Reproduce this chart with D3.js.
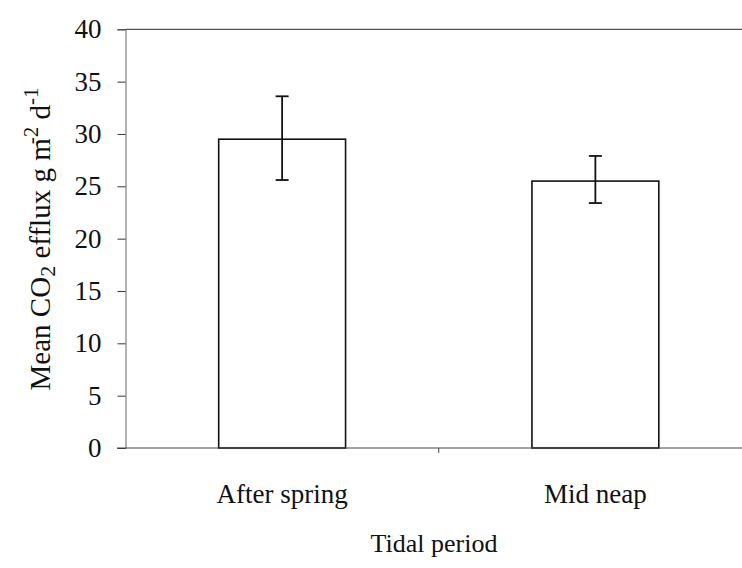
<!DOCTYPE html>
<html><head><meta charset="utf-8">
<script src="https://cdn.jsdelivr.net/npm/d3@7/dist/d3.min.js"></script>
<style>
html,body{margin:0;padding:0;background:#fff;}
svg{display:block;}
text{font-family:"Liberation Serif","Times New Roman",serif;fill:#111;}
</style></head>
<body>
<script>
const categories = ["After spring", "Mid neap"];
const means = [29.5, 25.5];
const errUpper = [33.6, 27.9];
const errLower = [25.6, 23.4];
const yTicks = [0, 5, 10, 15, 20, 25, 30, 35, 40];
const xTitle = "Tidal period";

const W = 742, H = 568;
const svg = d3.select("body").append("svg").attr("width", W).attr("height", H);

const x = d3.scaleBand().domain(categories).range([125.5, 752]).padding(0);
const y = d3.scaleLinear().domain([0, 40]).range([448, 29.3]);
const barFrac = 0.405;

// top line at 40
svg.append("line").attr("x1", 125.5).attr("x2", W).attr("y1", y(40)).attr("y2", y(40))
  .attr("stroke", "#555").attr("stroke-width", 1.2);

// y axis
const yAxis = d3.axisLeft(y).tickValues(yTicks).tickSize(8).tickPadding(16).tickFormat(d3.format("d"));
const gy = svg.append("g").attr("transform", "translate(125.5,0)").call(yAxis);
gy.select(".domain").attr("stroke", "#666").attr("stroke-width", 1);
gy.selectAll(".tick line").attr("stroke", "#333").attr("stroke-width", 1);
gy.selectAll(".tick text").style("font-size", "27px").attr("fill", "#111")
  .style("font-family", "'Liberation Serif', serif");

// bars
svg.selectAll("rect.bar").data(categories).enter().append("rect")
  .attr("class", "bar")
  .attr("x", d => x(d) + x.bandwidth() * (1 - barFrac) / 2)
  .attr("width", x.bandwidth() * barFrac)
  .attr("y", (d, i) => y(means[i]))
  .attr("height", (d, i) => y(0) - y(means[i]))
  .attr("fill", "#fff").attr("stroke", "#111").attr("stroke-width", 1.6);

// x axis line
svg.append("line").attr("x1", 117).attr("x2", W).attr("y1", y(0)).attr("y2", y(0))
  .attr("stroke", "#444").attr("stroke-width", 1.2);
// category boundary tick
const boundaries = categories.slice(1).map(c => x(c));
svg.selectAll("line.xt").data(boundaries).enter().append("line")
  .attr("class", "xt").attr("x1", d => d).attr("x2", d => d)
  .attr("y1", y(0)).attr("y2", y(0) + 5).attr("stroke", "#444").attr("stroke-width", 1);

// error bars
const cx = d => x(d) + x.bandwidth() / 2;
const capHalf = 6.5;
const eb = svg.selectAll("g.err").data(categories).enter().append("g").attr("class", "err");
eb.append("line").attr("x1", cx).attr("x2", cx)
  .attr("y1", (d, i) => y(errUpper[i])).attr("y2", (d, i) => y(errLower[i]))
  .attr("stroke", "#111").attr("stroke-width", 1.8);
eb.append("line").attr("x1", d => cx(d) - capHalf).attr("x2", d => cx(d) + capHalf)
  .attr("y1", (d, i) => y(errUpper[i])).attr("y2", (d, i) => y(errUpper[i]))
  .attr("stroke", "#111").attr("stroke-width", 1.8);
eb.append("line").attr("x1", d => cx(d) - capHalf).attr("x2", d => cx(d) + capHalf)
  .attr("y1", (d, i) => y(errLower[i])).attr("y2", (d, i) => y(errLower[i]))
  .attr("stroke", "#111").attr("stroke-width", 1.8);

// category labels
svg.selectAll("text.cat").data(categories).enter().append("text")
  .attr("class", "cat").attr("x", cx).attr("y", 503)
  .attr("text-anchor", "middle").style("font-size", "27px").text(d => d);

// x title
svg.append("text").attr("x", 434).attr("y", 552).attr("text-anchor", "middle")
  .style("font-size", "26px").text(xTitle);

// y title
const yt = svg.append("text").attr("transform", "translate(50,239) rotate(-90)")
  .attr("text-anchor", "middle").style("font-size", "29px");
yt.append("tspan").text("Mean CO");
yt.append("tspan").attr("dy", 5).style("font-size", "22px").text("2");
yt.append("tspan").attr("dy", -5).text(" efflux g m");
yt.append("tspan").attr("dy", -12).attr("dx", -6).style("font-size", "21px").text("-2");
yt.append("tspan").attr("dy", 12).text(" d");
yt.append("tspan").attr("dy", -12).style("font-size", "21px").text("-1");
</script>
</body></html>
